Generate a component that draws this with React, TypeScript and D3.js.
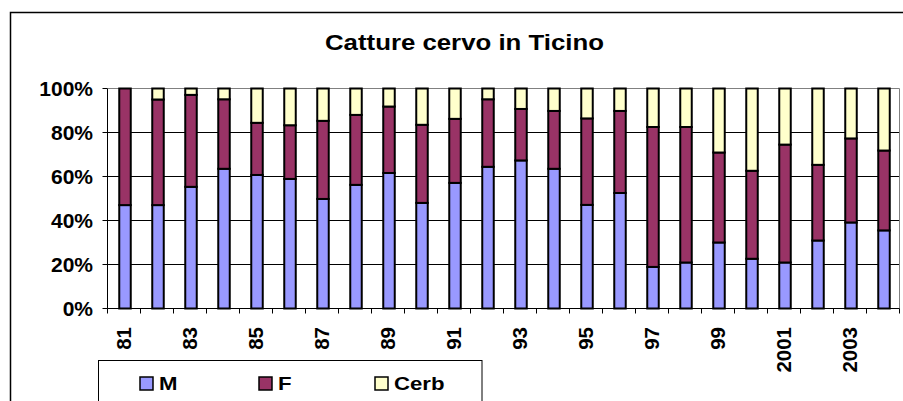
import React from "react";
import * as d3 from "d3";

const years = ["81","82","83","84","85","86","87","88","89","90","91","92","93","94","95","96","97","98","99","2000","2001","2002","2003","2004"];
const seriesNames = ["M", "F", "Cerb"];
const mValues = [47.0, 47.0, 55.3, 63.5, 60.7, 58.9, 49.8, 56.2, 61.6, 48.0, 57.1, 64.4, 67.3, 63.5, 47.1, 52.5, 18.9, 20.9, 30.0, 22.6, 20.9, 30.9, 39.1, 35.5];
const fValues = [53.0, 48.0, 41.8, 31.6, 23.7, 24.4, 35.5, 31.8, 30.2, 35.5, 29.1, 30.7, 23.4, 26.3, 39.3, 37.3, 63.6, 61.6, 40.9, 40.0, 53.6, 34.4, 38.2, 36.3];
const cerbValues = [0, 5.0, 2.9, 4.9, 15.6, 16.7, 14.7, 12.0, 8.2, 16.5, 13.8, 4.9, 9.3, 10.2, 13.6, 10.2, 17.5, 17.5, 29.1, 37.4, 25.5, 34.7, 22.7, 28.2];
const yTicks = [0, 0.2, 0.4, 0.6, 0.8, 1.0];
const colors = ["#9999FF", "#993366", "#FFFFCC"];
const title = "Catture cervo in Ticino";

const font = "'Liberation Sans', Arial, sans-serif";

export default function App() {
  const W = 903, H = 401;
  const left = 107.5, right = 899.5, top = 88.5, bottom = 308.5;
  const rows = years.map((y, i) => ({ year: y, M: mValues[i], F: fValues[i], Cerb: cerbValues[i] }));
  const stack = d3.stack<any>().keys(seriesNames).offset(d3.stackOffsetExpand);
  const stacked = stack(rows);
  const x = d3.scaleBand<string>().domain(years).range([left, right]).paddingInner(0).paddingOuter(0);
  const y = d3.scaleLinear().domain([0, 1]).range([bottom, top]);
  const bw = 11.5;

  return (
    <svg width={W} height={H} style={{ position: "absolute", left: 0, top: 0, background: "#fff" }}>
      <rect x={10.5} y={12.5} width={1000} height={1000} fill="#fff" stroke="#000" strokeWidth={1.5} />
      <text transform="translate(325,49.5) scale(1.2,1)" fontFamily={font} fontWeight="bold" fontSize={21.5}>{title}</text>

      {yTicks.map((t) => (
        <g key={t}>
          {t > 0 && t < 1 && <line x1={left} x2={right} y1={y(t)} y2={y(t)} stroke="#000" strokeWidth={1} />}
          <line x1={left - 5} x2={left} y1={y(t)} y2={y(t)} stroke="#000" strokeWidth={1} />
          <text x={93} y={y(t) + 7.5} textAnchor="end" fontFamily={font} fontWeight="bold" fontSize={21}>{d3.format(".0%")(t)}</text>
        </g>
      ))}
      <line x1={left} x2={right} y1={top} y2={top} stroke="#808080" strokeWidth={1} />
      <line x1={right} x2={right} y1={top} y2={bottom} stroke="#808080" strokeWidth={1} />
      <line x1={left} x2={left} y1={top} y2={bottom} stroke="#000" strokeWidth={1} />
      <line x1={left} x2={right} y1={bottom} y2={bottom} stroke="#000" strokeWidth={1} />

      {years.map((yr) => (
        <line key={"t" + yr} x1={x(yr)!} x2={x(yr)!} y1={bottom} y2={bottom + 5} stroke="#000" strokeWidth={1} />
      ))}
      <line x1={right} x2={right} y1={bottom} y2={bottom + 5} stroke="#000" strokeWidth={1} />

      {stacked.map((s, si) => (
        <g key={s.key}>
          {s.map((d, i) => {
            const h = y(d[0]) - y(d[1]);
            if (h <= 0.01) return null;
            const cx = x(years[i])! + x.bandwidth() / 2 + 1;
            return (
              <rect key={i} x={cx - bw / 2} y={y(d[1])} width={bw} height={h}
                fill={colors[si]} stroke="#000" strokeWidth={2} />
            );
          })}
        </g>
      ))}

      {years.map((yr, i) => i % 2 === 0 ? (
        <text key={"l" + yr} transform={`translate(${x(yr)! + x.bandwidth() / 2 + 7},${327}) rotate(-90)`}
          textAnchor="end" fontFamily={font} fontWeight="bold" fontSize={20.5}>{yr}</text>
      ) : null)}

      <rect x={98.5} y={360.5} width={383.5} height={60} fill="#fff" stroke="#000" strokeWidth={1} />
      {seriesNames.map((n, i) => {
        const sx = [140, 259, 375][i];
        return (
          <g key={n}>
            <rect x={sx} y={377} width={13} height={13} fill={colors[i]} stroke="#000" strokeWidth={1.5} />
            <text transform={`translate(${sx + 19},389.5) scale(1.2,1)`} fontFamily={font} fontWeight="bold" fontSize={18.5}>{n}</text>
          </g>
        );
      })}
    </svg>
  );
}
